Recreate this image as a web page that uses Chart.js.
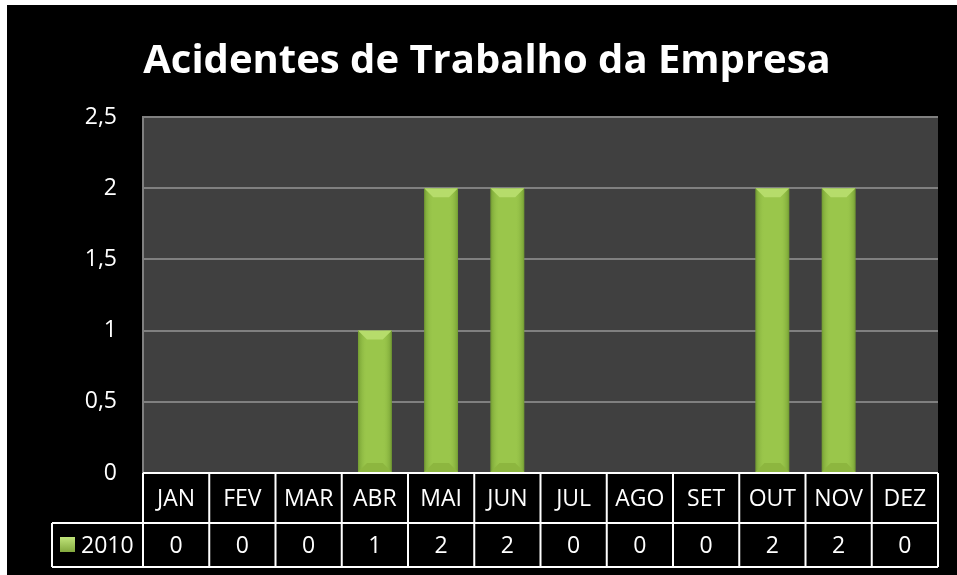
<!DOCTYPE html>
<html>
<head>
<meta charset="utf-8">
<script src="https://cdn.jsdelivr.net/npm/chart.js@4.4.1/dist/chart.umd.min.js"></script>
<style>
    html, body { margin: 0; padding: 0; background: #fff; }
    #wrap { position: absolute; left: 7px; top: 5px; width: 950px; height: 570px; background: #000; }
</style>
</head>
<body>
<div id="wrap"><canvas id="chart" width="950" height="570"></canvas></div>
<script>
// dados
const meses = ['JAN', 'FEV', 'MAR', 'ABR', 'MAI', 'JUN', 'JUL', 'AGO', 'SET', 'OUT', 'NOV', 'DEZ'];
const serieNome = '2010';
const acidentes = [0, 0, 0, 1, 2, 2, 0, 0, 0, 2, 2, 0];
const yTicks = [0, 0.5, 1, 1.5, 2, 2.5];

const fonte = "'Open Sans', 'Noto Sans', sans-serif";

// fundo cinza da area do grafico
const plotBg = {
    id: 'plotBg',
    beforeDraw(chart) {
        const a = chart.chartArea;
        const ctx = chart.ctx;
        ctx.save();
        ctx.fillStyle = '#404040';
        ctx.fillRect(a.left, a.top, a.right - a.left, a.bottom - a.top);
        ctx.restore();
    }
};

// efeito de chanfro nas barras
const bevel = {
    id: 'bevel',
    afterDatasetsDraw(chart) {
        const ctx = chart.ctx;
        chart.getDatasetMeta(0).data.forEach(function(bar) {
            const p = bar.getProps(['x', 'y', 'base', 'width'], true);
            const h = p.base - p.y;
            if (h <= 0) return;
            const l = p.x - p.width / 2, r = p.x + p.width / 2;
            const d = 9;
            ctx.save();
            // lados
            let g = ctx.createLinearGradient(l, 0, l + d, 0);
            g.addColorStop(0, '#76a034');
            g.addColorStop(1, 'rgba(154,198,75,0)');
            ctx.fillStyle = g;
            ctx.fillRect(l, p.y, d, h);
            g = ctx.createLinearGradient(r - d, 0, r, 0);
            g.addColorStop(0, 'rgba(154,198,75,0)');
            g.addColorStop(1, '#76a034');
            ctx.fillStyle = g;
            ctx.fillRect(r - d, p.y, d, h);
            // topo
            ctx.beginPath();
            ctx.moveTo(l, p.y);
            ctx.lineTo(r, p.y);
            ctx.lineTo(r - d, p.y + d);
            ctx.lineTo(l + d, p.y + d);
            ctx.closePath();
            ctx.fillStyle = '#b6dc6b';
            ctx.fill();
            // base
            ctx.beginPath();
            ctx.moveTo(l, p.base);
            ctx.lineTo(r, p.base);
            ctx.lineTo(r - d, p.base - d);
            ctx.lineTo(l + d, p.base - d);
            ctx.closePath();
            ctx.fillStyle = '#8db63f';
            ctx.fill();
            ctx.restore();
        });
    }
};

// tabela de dados abaixo do eixo
const tabela = {
    id: 'tabela',
    afterDraw(chart) {
        const ctx = chart.ctx;
        const a = chart.chartArea;
        const xs = chart.scales.x;
        const n = meses.length;
        const cw = (a.right - a.left) / n;
        const top = a.bottom;
        const mid = top + 50;
        const bot = mid + 44;
        const legL = 45;

        ctx.save();
        ctx.strokeStyle = '#fff';
        ctx.lineWidth = 2;
        ctx.beginPath();
        ctx.moveTo(a.left, top); ctx.lineTo(a.right, top);
        ctx.moveTo(legL, mid); ctx.lineTo(a.right, mid);
        ctx.moveTo(legL, bot); ctx.lineTo(a.right, bot);
        ctx.moveTo(legL, mid); ctx.lineTo(legL, bot);
        for (let i = 0; i <= n; i++) {
            const x = (i < n ? xs.getPixelForValue(i) - cw / 2 : xs.getPixelForValue(n - 1) + cw / 2);
            ctx.moveTo(x, top); ctx.lineTo(x, bot);
        }
        ctx.stroke();

        ctx.fillStyle = '#fff';
        ctx.font = '23px ' + fonte;
        ctx.textAlign = 'center';
        ctx.textBaseline = 'middle';
        for (let i = 0; i < n; i++) {
            const x = xs.getPixelForValue(i);
            ctx.fillText(meses[i], x, (top + mid) / 2 + 1);
            ctx.fillText(String(acidentes[i]), x, (mid + bot) / 2 + 1);
        }

        // legenda
        const ky = (mid + bot) / 2;
        let g = ctx.createLinearGradient(0, ky - 8, 0, ky + 8);
        g.addColorStop(0, '#c0e47a');
        g.addColorStop(1, '#7fa53a');
        ctx.fillStyle = g;
        ctx.fillRect(legL + 8, ky - 8, 15, 15);
        ctx.fillStyle = '#fff';
        ctx.textAlign = 'left';
        ctx.fillText(serieNome, legL + 29, ky + 1);
        ctx.restore();
    }
};

const ctx = document.getElementById('chart').getContext('2d');
const grafico = new Chart(ctx, {
    type: 'bar',
    data: {
        labels: meses,
        datasets: [{
            label: serieNome,
            data: acidentes,
            backgroundColor: '#9ac64b',
            borderColor: '#5f8226',
            borderWidth: 1,
            borderSkipped: false,
            barPercentage: 0.51,
            categoryPercentage: 1
        }]
    },
    options: {
        responsive: false,
        animation: false,
        layout: { padding: { top: 112, right: 19, bottom: 102, left: 0 } },
        plugins: {
            legend: { display: false },
            tooltip: { enabled: false },
            title: { display: false }
        },
        scales: {
            x: { display: false },
            y: {
                min: 0,
                max: 2.5,
                afterBuildTicks(scale) {
                    scale.ticks = yTicks.map(v => ({ value: v }));
                },
                afterFit(scale) { scale.width = 136; },
                ticks: {
                    color: '#fff',
                    padding: 26,
                    font: { family: fonte, size: 23 },
                    callback: v => String(v).replace('.', ',')
                },
                grid: { color: '#808080', lineWidth: 2, drawTicks: false },
                border: { color: '#808080', width: 2 }
            }
        }
    },
    plugins: [plotBg, bevel, tabela, {
        id: 'titulo',
        afterDraw(chart) {
            const c = chart.ctx;
            c.save();
            c.fillStyle = '#fff';
            c.font = 'bold 40px ' + fonte;
            c.textAlign = 'center';
            c.textBaseline = 'alphabetic';
            c.fillText('Acidentes de Trabalho da Empresa', 480, 68);
            c.restore();
        }
    }]
});
</script>
</body>
</html>
